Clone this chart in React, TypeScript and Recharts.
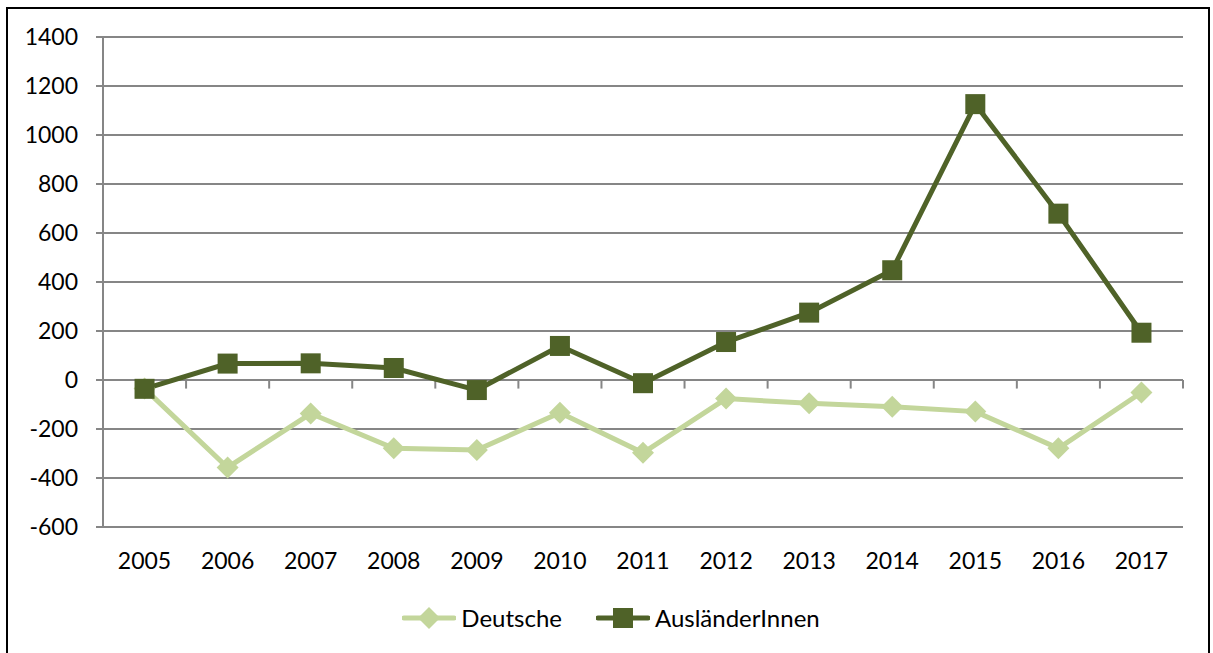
import { LineChart, Line, XAxis, YAxis, CartesianGrid, ReferenceLine, Legend } from "recharts";

const years = [2005, 2006, 2007, 2008, 2009, 2010, 2011, 2012, 2013, 2014, 2015, 2016, 2017];
const deutsche = [-35, -357, -137, -279, -286, -134, -297, -76, -95, -109, -129, -279, -51];
const auslaender = [-36, 67, 68, 49, -41, 139, -13, 155, 275, 448, 1126, 679, 193];
const yTicks = [-600, -400, -200, 0, 200, 400, 600, 800, 1000, 1200, 1400];

const LIGHT = "#c3d69b";
const DARK = "#4f6228";
const GRID = "#868686";
const FONT = "Lato, 'Open Sans', sans-serif";

const data = years.map((year, i) => ({ year, Deutsche: deutsche[i], AusländerInnen: auslaender[i] }));

// category boundaries for the small tick marks on the zero line
const boundaries = [...years.map((y) => y - 0.5), years[years.length - 1] + 0.5];

const Diamond = ({ cx, cy, size = 11, color }: { cx: number; cy: number; size?: number; color: string }) => (
  <polygon
    points={`${cx},${cy - size} ${cx + size},${cy} ${cx},${cy + size} ${cx - size},${cy}`}
    fill={color}
  />
);

const Square = ({ cx, cy, size = 10, color }: { cx: number; cy: number; size?: number; color: string }) => (
  <rect x={cx - size} y={cy - size} width={size * 2} height={size * 2} fill={color} />
);

function LegendContent() {
  const items = [
    { name: "Deutsche", color: LIGHT, square: false },
    { name: "AusländerInnen", color: DARK, square: true },
  ];
  return (
    <div style={{ display: "flex", justifyContent: "center", gap: 34, paddingLeft: 6, fontFamily: FONT, fontSize: 24, color: "#000" }}>
      {items.map((it) => (
        <div key={it.name} style={{ display: "flex", alignItems: "center", gap: 5 }}>
          <svg width={54} height={24}>
            <line x1={2} y1={12} x2={52} y2={12} stroke={it.color} strokeWidth={5} strokeLinecap="round" />
            {it.square ? <Square cx={27} cy={12} color={it.color} /> : <Diamond cx={27} cy={12} color={it.color} />}
          </svg>
          <span>{it.name}</span>
        </div>
      ))}
    </div>
  );
}

export default function App() {
  return (
    <div
      style={{
        position: "absolute",
        left: 6,
        top: 7,
        width: 1200,
        height: 660,
        border: "2px solid #000",
        background: "#fff",
      }}
    >
      <LineChart width={1200} height={640} data={data} margin={{ top: 28, right: 25, bottom: 82, left: 0 }}>
        <CartesianGrid vertical={false} stroke={GRID} strokeWidth={2} />
        <XAxis
          dataKey="year"
          type="number"
          domain={[2004.5, 2017.5]}
          ticks={years}
          interval={0}
          axisLine={false}
          tickLine={false}
          tickSize={0}
          tickMargin={26}
          height={40}
          tick={{ fill: "#000", fontSize: 23, fontFamily: FONT }}
        />
        <YAxis
          domain={[-600, 1400]}
          ticks={yTicks}
          interval={0}
          width={95}
          axisLine={{ stroke: GRID, strokeWidth: 2 }}
          tickLine={{ stroke: GRID, strokeWidth: 2 }}
          tickSize={7}
          tickMargin={18}
          tick={{ fill: "#000", fontSize: 23, fontFamily: FONT }}
        />
        <ReferenceLine y={0} stroke={GRID} strokeWidth={2} />
        {boundaries.map((b) => (
          <ReferenceLine
            key={b}
            segment={[
              { x: b, y: 0 },
              { x: b, y: -35 },
            ]}
            stroke={GRID}
            strokeWidth={2}
          />
        ))}
        <Legend verticalAlign="middle" align="center" content={LegendContent} wrapperStyle={{ top: 594, left: 0, width: 1200 }} />
        <Line
          dataKey="Deutsche"
          stroke={LIGHT}
          strokeWidth={5}
          isAnimationActive={false}
          dot={(p: any) => <Diamond key={`d-${p.index}`} cx={p.cx} cy={p.cy} color={LIGHT} />}
          activeDot={false}
        />
        <Line
          dataKey="AusländerInnen"
          stroke={DARK}
          strokeWidth={5}
          isAnimationActive={false}
          dot={(p: any) => <Square key={`a-${p.index}`} cx={p.cx} cy={p.cy} color={DARK} />}
          activeDot={false}
        />
      </LineChart>
    </div>
  );
}
